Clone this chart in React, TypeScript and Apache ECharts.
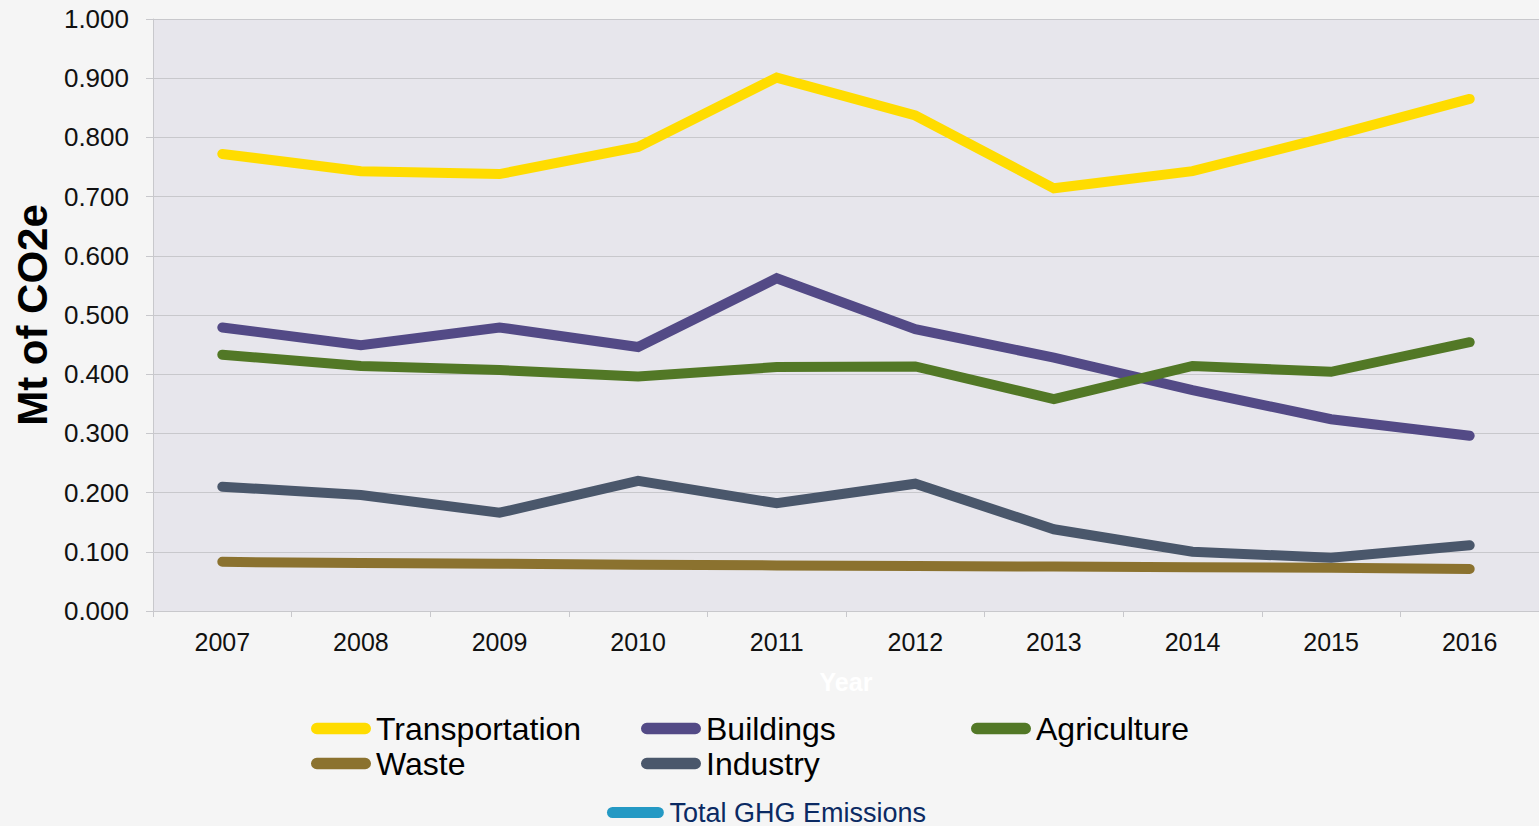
import React, { useEffect, useRef } from "react";
import * as echarts from "echarts";

const years = ["2007", "2008", "2009", "2010", "2011", "2012", "2013", "2014", "2015", "2016"];
const transportation = [0.772, 0.743, 0.738, 0.784, 0.901, 0.837, 0.714, 0.743, 0.802, 0.865];
const buildings = [0.479, 0.449, 0.479, 0.446, 0.562, 0.476, 0.428, 0.373, 0.324, 0.296];
const agriculture = [0.433, 0.414, 0.407, 0.396, 0.412, 0.413, 0.358, 0.414, 0.404, 0.454];
const waste = [0.083, 0.081, 0.080, 0.078, 0.077, 0.076, 0.075, 0.074, 0.073, 0.071];
const industry = [0.210, 0.196, 0.166, 0.220, 0.182, 0.215, 0.138, 0.100, 0.090, 0.111];
const totalGhg: (number | null)[] = [];

const seriesNames = ["Transportation", "Buildings", "Agriculture", "Waste", "Industry", "Total GHG Emissions"];
const seriesColors = ["#FFDC00", "#534A86", "#527826", "#8B722F", "#4A576B", "#2499C4"];
const seriesData = [transportation, buildings, agriculture, waste, industry, totalGhg];

const FONT = "'Liberation Sans', Arial, sans-serif";
const capsule = "path://M6,0 L56,0 A6,6 0 0 1 56,12 L6,12 A6,6 0 0 1 6,0 Z";

export default function App() {
  const ref = useRef<HTMLDivElement>(null);
  useEffect(() => {
    if (!ref.current) return;
    const chart = echarts.init(ref.current, undefined, { renderer: "svg" });
    chart.setOption({
      animation: false,
      backgroundColor: "#F5F5F5",
      grid: {
        left: 153,
        right: 0,
        top: 19,
        bottom: 215,
        show: true,
        backgroundColor: "#E7E6EC",
        borderWidth: 0,
      },
      xAxis: {
        type: "category",
        data: years,
        boundaryGap: true,
        name: "Year",
        nameLocation: "middle",
        nameGap: 58,
        nameTextStyle: { color: "#FFFFFF", fontSize: 25, fontWeight: "bold", fontFamily: FONT },
        axisLine: { lineStyle: { color: "#C8C8CC", width: 1 } },
        axisTick: { show: true, interval: 0, length: 6, lineStyle: { color: "#C8C8CC" } },
        axisLabel: { color: "#111111", fontSize: 25, fontFamily: FONT, margin: 18, interval: 0 },
        splitLine: { show: false },
      },
      yAxis: {
        type: "value",
        min: 0,
        max: 1,
        interval: 0.1,
        name: "Mt of CO2e",
        nameLocation: "middle",
        nameGap: 97,
        nameTextStyle: { color: "#000000", fontSize: 42, fontWeight: "bold", fontFamily: FONT },
        axisLine: { show: true, lineStyle: { color: "#C8C8CC", width: 1 } },
        axisTick: { show: true, length: 7, lineStyle: { color: "#C8C8CC" } },
        axisLabel: {
          color: "#111111",
          fontSize: 26,
          fontFamily: FONT,
          margin: 24,
          formatter: (v: number) => v.toFixed(3),
        },
        splitLine: { show: true, lineStyle: { color: "#C8C8CC", width: 1 } },
      },
      legend: [
        {
          data: seriesNames.slice(0, 5),
          left: 311,
          top: 711,
          width: 1000,
          padding: 0,
          orient: "horizontal",
          itemGap: 0,
          itemWidth: 60,
          itemHeight: 12,
          icon: capsule,
          textStyle: {
            color: "#000000",
            fontSize: 32,
            fontFamily: FONT,
            width: 265,
            lineHeight: 35,
            overflow: "none",
          },
        },
        {
          data: [seriesNames[5]],
          left: 607,
          top: 799,
          padding: 0,
          itemGap: 0,
          itemWidth: 58,
          itemHeight: 11,
          icon: capsule,
          textStyle: { color: "#0B2A63", fontSize: 27, fontFamily: FONT, lineHeight: 26 },
        },
      ],
      series: seriesNames.map((name, i) => ({
        name,
        type: "line",
        data: seriesData[i],
        color: seriesColors[i],
        symbol: "none",
        lineStyle: { width: 10, color: seriesColors[i], cap: "round", join: "miter" },
        itemStyle: { color: seriesColors[i] },
      })),
    });
    return () => chart.dispose();
  }, []);
  return (
    <div
      ref={ref}
      style={{ position: "absolute", left: 0, top: 0, width: 1539, height: 826 }}
    />
  );
}
